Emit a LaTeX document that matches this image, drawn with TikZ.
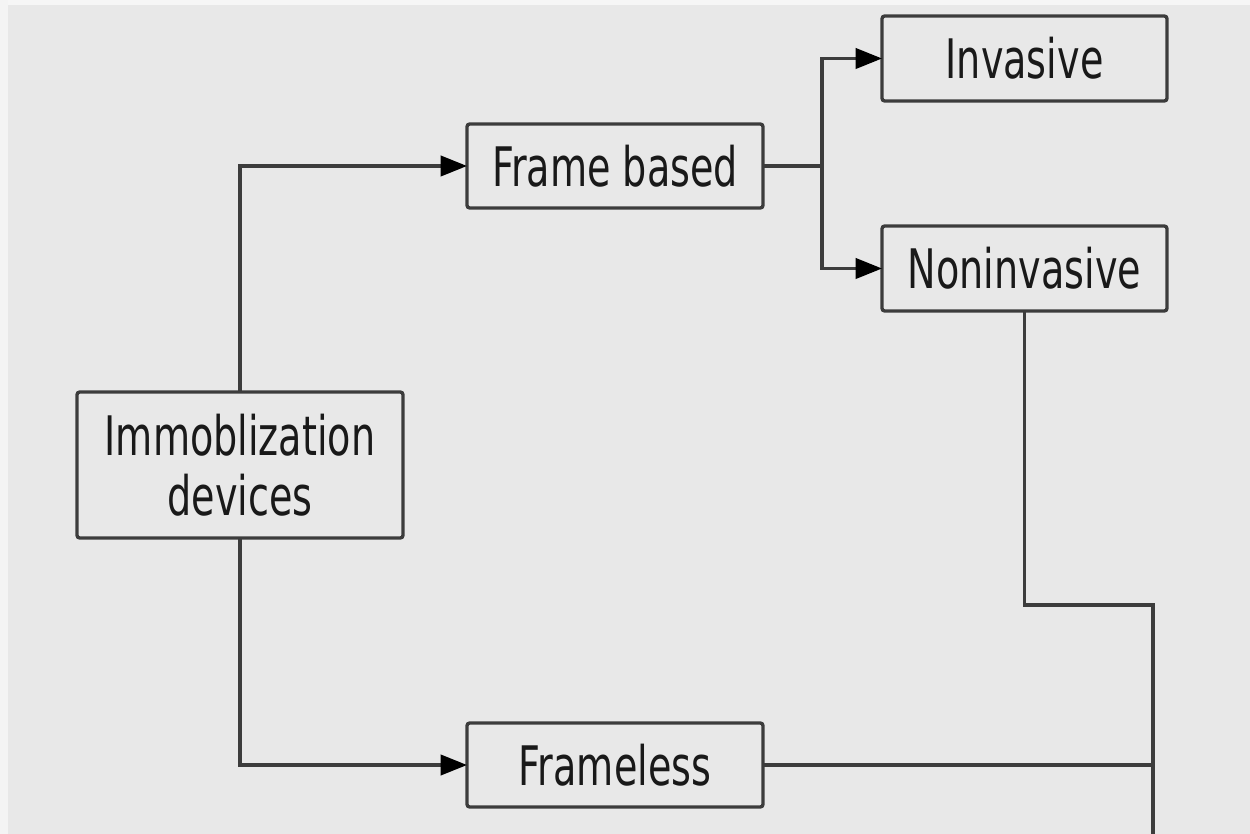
\documentclass[tikz,border=0pt]{standalone}
\usepackage{fontspec}
\setmainfont{DejaVu Sans}[FakeStretch=0.7]
\usetikzlibrary{arrows.meta}
\definecolor{bgc}{HTML}{E8E8E8}
\definecolor{linec}{HTML}{3C3C3C}
\begin{document}
\begin{tikzpicture}[x=0.02cm,y=-0.02cm,
  box/.style={draw=linec,line width=1.9pt,fill=bgc,rounded corners=1.5pt,inner sep=0pt,outer sep=0pt,
    align=center,font=\fontsize{31}{34}\selectfont,text=black!90},
  conn/.style={draw=linec,line width=1.9pt},
  arr/.style={conn,-{Triangle[length=15pt,width=11.5pt,fill=black,color=black]}}]
\fill[bgc] (0,0) rectangle (1250,834);
\fill[white!60!bgc] (0,0) rectangle (1250,5);
\fill[white!50!bgc] (0,0) rectangle (8,834);
\useasboundingbox (0,0) rectangle (1250,834);

\node[box,minimum width=5.7cm,minimum height=1.7cm] (inv) at (1024.5,58.5) {Invasive};
\node[box,minimum width=5.7cm,minimum height=1.7cm] (non) at (1024.5,268.5) {Noninvasive};
\node[box,minimum width=5.92cm,minimum height=1.68cm] (fb) at (615,166) {Frame based};
\node[box,minimum width=6.52cm,minimum height=2.92cm] (imm) at (240,465) {Immoblization\\devices};
\node[box,minimum width=5.92cm,minimum height=1.68cm] (fl) at (615,765) {Frameless};

\coordinate (j) at (822,166);
\coordinate (k) at (1153,605);
\coordinate (e) at (1153,840);

\draw[arr] (imm.north) |- (fb.west);
\draw[arr] (imm.south) |- (fl.west);
\draw[conn] (fb.east) -- (j);
\draw[arr] (j) |- (inv.west);
\draw[arr] (j) |- (non.west);
\draw[conn] (non.south) |- (k) -- (e);
\draw[conn] (fl.east) -- (fl.east -| k);
\end{tikzpicture}
\end{document}
